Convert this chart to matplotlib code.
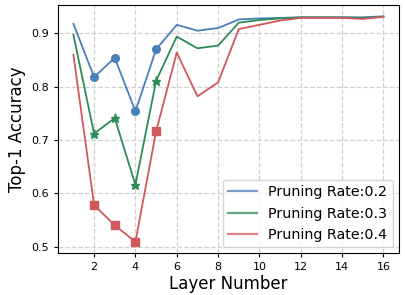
import matplotlib
matplotlib.use("Agg")
import matplotlib.pyplot as plt

layers = list(range(1, 17))
acc_02 = [0.918, 0.818, 0.854, 0.754, 0.870, 0.916, 0.905, 0.910, 0.926, 0.928, 0.929, 0.930, 0.930, 0.930, 0.930, 0.932]
acc_03 = [0.897, 0.712, 0.741, 0.616, 0.811, 0.894, 0.872, 0.877, 0.920, 0.925, 0.928, 0.930, 0.930, 0.930, 0.929, 0.931]
acc_04 = [0.860, 0.578, 0.540, 0.509, 0.716, 0.864, 0.782, 0.808, 0.908, 0.916, 0.924, 0.929, 0.929, 0.929, 0.927, 0.931]
labels = ["Pruning Rate:0.2", "Pruning Rate:0.3", "Pruning Rate:0.4"]

fig, ax = plt.subplots(figsize=(4.05, 2.95), dpi=100)
fig.subplots_adjust(left=0.143, right=0.985, top=0.983, bottom=0.142)

mk = [1, 2, 3, 4]  # markers only on layers 2-5
ax.plot(layers, acc_02, color="#4a7fb8", lw=1.3, marker="o", ms=5.5, markevery=mk, label=labels[0])
ax.plot(layers, acc_03, color="#2e8b57", lw=1.3, marker="*", ms=6.5, markevery=mk, label=labels[1])
ax.plot(layers, acc_04, color="#d1585c", lw=1.3, marker="s", ms=5.5, markevery=mk, label=labels[2])

ax.grid(True, ls="--", color="#d0d0d0", lw=0.9)
ax.set_axisbelow(True)
ax.set_xticks([2, 4, 6, 8, 10, 12, 14, 16])
ax.set_yticks([0.5, 0.6, 0.7, 0.8, 0.9])
ax.tick_params(labelsize=8, length=3)
ax.set_xlabel("Layer Number", fontsize=12, labelpad=2)
ax.set_ylabel("Top-1 Accuracy", fontsize=12)

leg = ax.legend(loc="lower right", fontsize=10.3, handlelength=2.0, handletextpad=0.8,
                borderaxespad=0.4, markerscale=0)
for ln in leg.get_lines():
    ln.set_marker("")
    ln.set_alpha(0.75)
    ln.set_linewidth(1.6)

fig.savefig("out.png", dpi=100)
